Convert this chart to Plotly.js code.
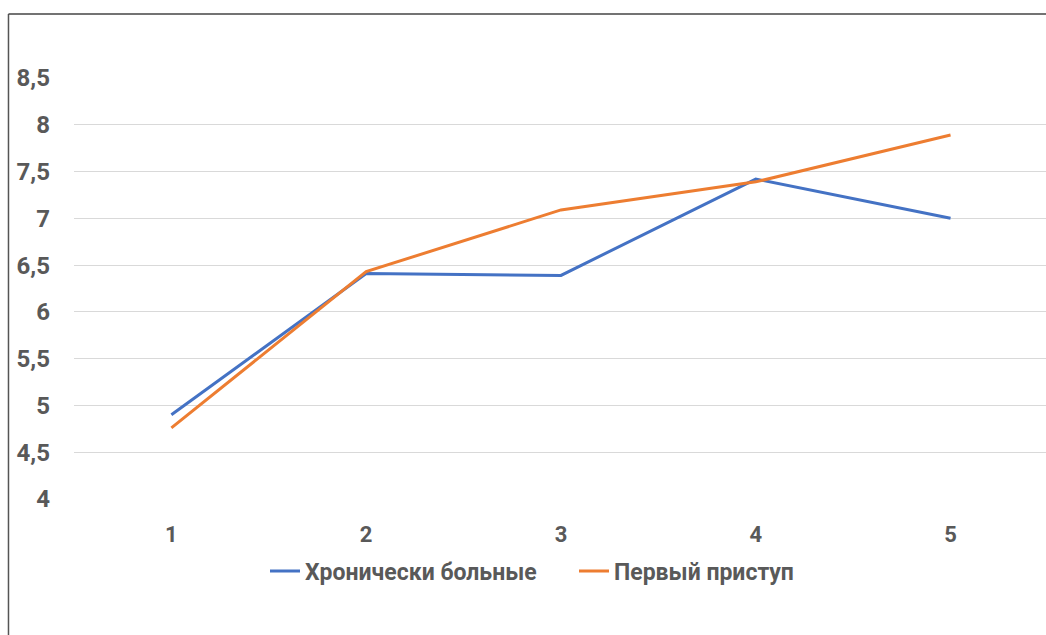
<!DOCTYPE html>
<html>
<head>
<meta charset="utf-8">
<script src="https://cdn.plot.ly/plotly-3.0.1.min.js"></script>
<style>
  html, body { margin: 0; padding: 0; background: #fff; }
  #chart { width: 1046px; height: 635px; }
</style>
</head>
<body>
<div id="chart"></div>
<script>
const categories = [1, 2, 3, 4, 5];
const chronic = [4.90, 6.41, 6.39, 7.42, 7.00];
const firstAttack = [4.76, 6.43, 7.09, 7.39, 7.89];
const seriesNames = ["Хронически больные", "Первый приступ"];
const yTickVals = [4, 4.5, 5, 5.5, 6, 6.5, 7, 7.5, 8, 8.5];
const yTickText = ["4", "4,5", "5", "5,5", "6", "6,5", "7", "7,5", "8", "8,5"];

const fontFam = "Roboto, 'Open Sans', sans-serif";
const grey = "#595959";

const traces = [
  { x: categories, y: chronic, name: seriesNames[0], type: "scatter", mode: "lines",
    line: { color: "#4472C4", width: 3 } },
  { x: categories, y: firstAttack, name: seriesNames[1], type: "scatter", mode: "lines",
    line: { color: "#ED7D31", width: 3 } }
];

const layout = {
  width: 1046, height: 635,
  margin: { l: 74, r: 0, t: 78, b: 136 },
  paper_bgcolor: "#fff", plot_bgcolor: "#fff",
  font: { family: fontFam, color: grey },
  showlegend: true,
  legend: {
    orientation: "h", x: (265 - 74) / 972, xanchor: "left", y: -0.171, yanchor: "middle",
    entrywidth: 264, entrywidthmode: "pixels",
    font: { family: fontFam, size: 23, color: grey, weight: "bold" }
  },
  xaxis: {
    type: "linear", range: [0.5, 5.49], tickvals: categories, ticktext: categories.map(String),
    showgrid: false, zeroline: false, showline: false, ticks: "",
    ticklabelstandoff: 20,
    tickfont: { family: fontFam, size: 22, color: grey, weight: "bold" }
  },
  yaxis: {
    range: [4, 8.5], tickvals: yTickVals, ticktext: yTickText,
    showgrid: true, gridcolor: "#d9d9d9", gridwidth: 1, zeroline: false, showline: false,
    ticks: "", ticklabelstandoff: 23,
    tickfont: { family: fontFam, size: 24, color: grey, weight: "bold" }
  },
  shapes: [
    { type: "line", xref: "paper", yref: "paper", x0: -0.0674, x1: -0.0674, y0: -0.33, y1: 1.152,
      line: { color: "#555", width: 1.5 } },
    { type: "line", xref: "paper", yref: "paper", x0: -0.0674, x1: 1.01, y0: 1.152, y1: 1.152,
      line: { color: "#444", width: 1.5 } }
  ]
};

Plotly.newPlot("chart", traces, layout, { displayModeBar: false, staticPlot: true });
</script>
</body>
</html>
